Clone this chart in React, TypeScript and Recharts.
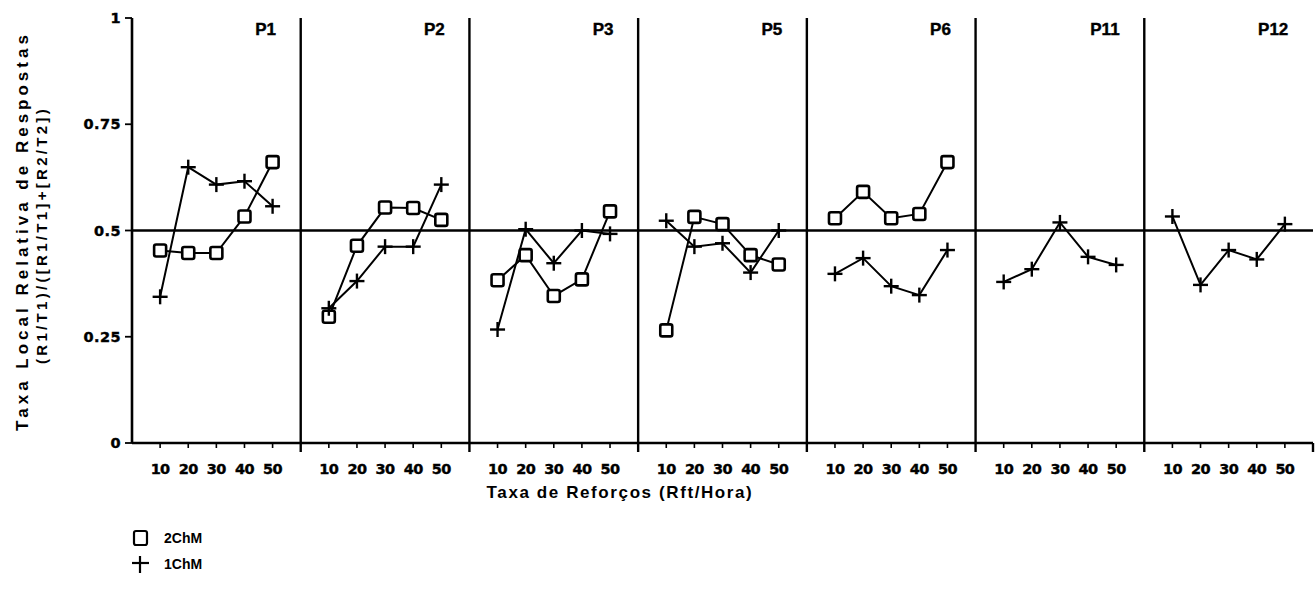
import React from 'react';
import { LineChart, Line, XAxis, YAxis, ReferenceLine } from 'recharts';

// ---- data ----
const panels = ['P1', 'P2', 'P3', 'P5', 'P6', 'P11', 'P12'];
const rates = [10, 20, 30, 40, 50];
const yTicks = [0, 0.25, 0.5, 0.75, 1];
const yTickLabels = ['0', '0.25', '0.5', '0.75', '1'];

// 2ChM (squares)
const twoChM_P1 = [0.453, 0.447, 0.447, 0.533, 0.661];
const twoChM_P2 = [0.297, 0.464, 0.554, 0.553, 0.525];
const twoChM_P3 = [0.383, 0.442, 0.346, 0.385, 0.545];
const twoChM_P5 = [0.265, 0.532, 0.515, 0.442, 0.42];
const twoChM_P6 = [0.529, 0.591, 0.529, 0.539, 0.661];

// 1ChM (plus)
const oneChM_P1 = [0.344, 0.649, 0.608, 0.616, 0.557];
const oneChM_P2 = [0.317, 0.381, 0.462, 0.462, 0.608];
const oneChM_P3 = [0.267, 0.503, 0.423, 0.5, 0.492];
const oneChM_P5 = [0.523, 0.462, 0.47, 0.401, 0.5];
const oneChM_P6 = [0.398, 0.435, 0.369, 0.348, 0.454];
const oneChM_P11 = [0.379, 0.409, 0.519, 0.438, 0.419];
const oneChM_P12 = [0.533, 0.372, 0.454, 0.432, 0.515];

const twoChMByPanel: (number[] | null)[] = [twoChM_P1, twoChM_P2, twoChM_P3, twoChM_P5, twoChM_P6, null, null];
const oneChMByPanel: (number[] | null)[] = [oneChM_P1, oneChM_P2, oneChM_P3, oneChM_P5, oneChM_P6, oneChM_P11, oneChM_P12];

// ---- derived structures for the library ----
const SPAN = 60; // x-units per panel
const toSeries = (vals: number[] | null, p: number) =>
  vals ? rates.map((r, i) => ({ x: r + p * SPAN, y: vals[i] })) : null;

const xTicks: number[] = [];
panels.forEach((_, p) => {
  rates.forEach((r) => xTicks.push(r + p * SPAN));
  if (p < panels.length - 1) xTicks.push((p + 1) * SPAN);
});
xTicks.push(panels.length * SPAN);
const boundaries = panels.slice(0, -1).map((_, p) => (p + 1) * SPAN);

const FONT = '"Liberation Sans", Arial, sans-serif';
const TICK_FONT = '"DejaVu Sans", "Liberation Sans", sans-serif';
const TICK_SIZE = 5;
const TICK_MARGIN = 2;
const Y_TICK_SIZE = 7;
const Y_TICK_MARGIN = 5;

const SquareDot = (props: any) => {
  const { cx, cy, index } = props;
  if (cx == null || cy == null) return <g key={`s${index}`} />;
  return (
    <rect key={`s${cx}`} x={cx - 6} y={cy - 6} width={12} height={12} rx={2}
      fill="#fff" stroke="#000" strokeWidth={2.6} />
  );
};

const PlusDot = (props: any) => {
  const { cx, cy, index } = props;
  if (cx == null || cy == null) return <g key={`p${index}`} />;
  return (
    <g key={`p${cx}`}>
      <line x1={cx - 7.5} y1={cy} x2={cx + 7.5} y2={cy} stroke="#000" strokeWidth={2.4} />
      <line x1={cx} y1={cy - 7.5} x2={cx} y2={cy + 7.5} stroke="#000" strokeWidth={2.4} />
    </g>
  );
};

const XTick = (props: any) => {
  const { x, y, payload } = props;
  const v = payload.value;
  const rel = v % SPAN;
  const axisY = y - TICK_SIZE - TICK_MARGIN;
  if (rel === 0) {
    return (
      <line x1={x} y1={axisY} x2={x} y2={axisY + 9} stroke="#000" strokeWidth={2.4} />
    );
  }
  return (
    <g>
      <line x1={x} y1={axisY} x2={x} y2={axisY + 5} stroke="#000" strokeWidth={1.6} />
      <text x={x} y={y + 24} textAnchor="middle" fontFamily={TICK_FONT} fontWeight={700}
        fontSize={14.5} letterSpacing={-0.6} fill="#000" stroke="#000" strokeWidth={0.4}>
        {rel}
      </text>
    </g>
  );
};

const YTick = (props: any) => {
  const { x, y, payload } = props;
  const idx = yTicks.indexOf(payload.value);
  const axisX = x + Y_TICK_SIZE + Y_TICK_MARGIN;
  return (
    <g>
      <line x1={axisX - Y_TICK_SIZE} y1={y} x2={axisX} y2={y} stroke="#000" strokeWidth={1.8} />
      <text x={x + 1} y={y + 5} textAnchor="end" fontFamily={TICK_FONT} fontWeight={700}
        fontSize={14.5} letterSpacing={0.4} fill="#000" stroke="#000" strokeWidth={0.4}>
        {yTickLabels[idx]}
      </text>
    </g>
  );
};

export default function App() {
  return (
    <div style={{ position: 'absolute', left: 0, top: 0, width: 1315, height: 616, background: '#fff' }}>
      <LineChart width={1315} height={616} margin={{ top: 18, right: 2, left: 0, bottom: 143 }}>
        <XAxis type="number" dataKey="x" domain={[0, panels.length * SPAN]} ticks={xTicks}
          interval={0} height={30} axisLine={{ stroke: '#000', strokeWidth: 2.6 }}
          tickLine={false} tickSize={TICK_SIZE} tickMargin={TICK_MARGIN} tick={<XTick />} />
        <YAxis type="number" domain={[0, 1]} ticks={yTicks} interval={0} width={132}
          axisLine={{ stroke: '#000', strokeWidth: 2.6 }}
          tickLine={false} tickSize={Y_TICK_SIZE} tickMargin={Y_TICK_MARGIN}
          tick={<YTick />} />
        {boundaries.map((b) => (
          <ReferenceLine key={`b${b}`} x={b} stroke="#000" strokeWidth={2.4} ifOverflow="visible" />
        ))}
        <ReferenceLine y={0.5} stroke="#000" strokeWidth={2.4} />
        {panels.map((name, p) => (
          <ReferenceLine key={`lab${name}`} x={p * SPAN + 53} stroke="none"
            label={{ value: name, position: 'insideTopRight', offset: 5, fill: '#000',
              stroke: '#000', strokeWidth: 0.4,
              fontFamily: FONT, fontWeight: 700, fontSize: 17 }} />
        ))}
        {twoChMByPanel.map((vals, p) => {
          const d = toSeries(vals, p);
          return d ? (
            <Line key={`two${p}`} data={d} dataKey="y" type="linear" stroke="#000" strokeWidth={2}
              dot={SquareDot} isAnimationActive={false} />
          ) : null;
        })}
        {oneChMByPanel.map((vals, p) => {
          const d = toSeries(vals, p);
          return d ? (
            <Line key={`one${p}`} data={d} dataKey="y" type="linear" stroke="#000" strokeWidth={2}
              dot={PlusDot} isAnimationActive={false} />
          ) : null;
        })}
      </LineChart>
      <svg width={1315} height={616} style={{ position: 'absolute', left: 0, top: 0, pointerEvents: 'none' }}>
        <text x={0} y={0} transform="translate(28,231) rotate(-90)" textAnchor="middle"
          fontFamily={FONT} fontWeight={700} fontSize={17} letterSpacing={4} fill="#000">
          Taxa Local Relativa de Respostas
        </text>
        <text x={0} y={0} transform="translate(47,235) rotate(-90)" textAnchor="middle"
          fontFamily={FONT} fontWeight={700} fontSize={15} letterSpacing={3.3} fill="#000">
          (R1/T1)/([R1/T1]+[R2/T2])
        </text>
        <text x={620} y={498} textAnchor="middle" fontFamily={FONT} fontWeight={700}
          fontSize={17} letterSpacing={1.6} fill="#000">
          Taxa de Reforços (Rft/Hora)
        </text>
        <rect x={134} y={531} width={13} height={14} rx={2} fill="#fff" stroke="#000" strokeWidth={2.2} />
        <text x={164} y={543} fontFamily={FONT} fontWeight={700} fontSize={14} fill="#000">2ChM</text>
        <line x1={132} y1={563} x2={149} y2={563} stroke="#000" strokeWidth={2.2} />
        <line x1={140} y1={556} x2={140} y2={573} stroke="#000" strokeWidth={2.2} />
        <text x={164} y={569} fontFamily={FONT} fontWeight={700} fontSize={14} fill="#000">1ChM</text>
      </svg>
    </div>
  );
}
